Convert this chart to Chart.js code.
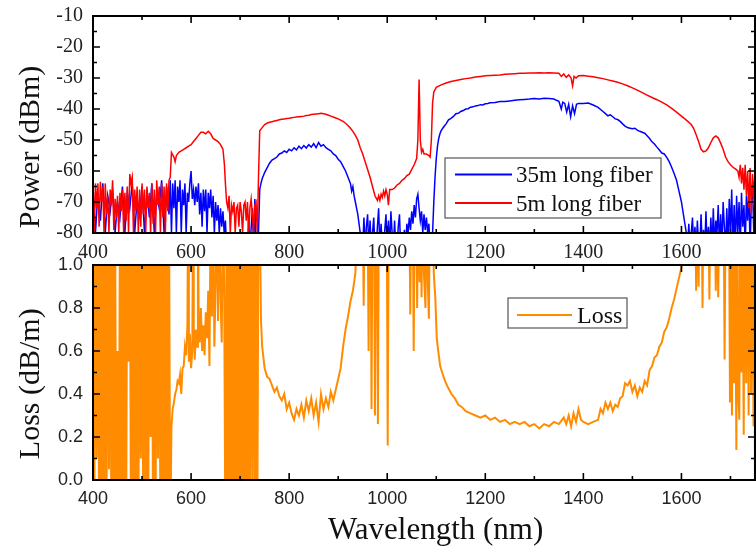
<!DOCTYPE html>
<html><head><meta charset="utf-8">
<script src="https://cdn.jsdelivr.net/npm/chart.js@4.4.1/dist/chart.umd.min.js"></script>
<style>
html,body{margin:0;padding:0;background:#fff;}
#wrap{position:relative;width:756px;height:554px;overflow:hidden;background:#fff;}
canvas{position:absolute;left:0;}
#bot{top:250px;}
#top{top:0;}
</style></head><body>
<div id="wrap"><canvas id="bot" width="756" height="304" style="width:756px;height:304px"></canvas><canvas id="top" width="756" height="270" style="width:756px;height:270px"></canvas></div>
<script>
// ---- data: [wavelength nm, value] ----
const seriesNames = ['35m long fiber', '5m long fiber', 'Loss'];
const xTicks = [400, 600, 800, 1000, 1200, 1400, 1600];
const powerTicks = [-80, -70, -60, -50, -40, -30, -20, -10];
const lossTicks = [0.0, 0.2, 0.4, 0.6, 0.8, 1.0];

const power5m = [
[400,-63],[402.5,-80],[405,-64],[407.5,-72],[410,-64],[412.5,-78],[415,-63.5],[417.5,-70],[420,-65],[422.5,-80],[425,-64],[427.5,-74],[430,-68],[432.5,-80],[435,-66],[437.5,-71],[440,-63],[442.5,-79],[445,-69],[447.5,-75],[450,-68],[452.5,-80],[455,-67],[457.5,-73],[460,-66],[462.5,-80],[465,-67],[467.5,-76],[470,-65],[472.5,-80],[475,-61],[477.5,-64],[480,-62],[482.5,-80],[485,-66],[487.5,-73],[490,-65],[492.5,-80],[495,-66],[497.5,-78],[500,-64],[502.5,-74],[505,-66],[507.5,-80],[510,-65],[512.5,-72],[515,-67],[517.5,-80],[520,-64],[522.5,-77],[525,-66],[527.5,-80],[530,-63],[532.5,-71],[535,-65],[537.5,-80],[540,-64],[542.5,-75],[545,-65],[547.5,-80],[550,-64],[552.5,-73],[555,-63],[557.5,-62],
[560,-54],[565,-55.5],[567.5,-57],[570,-55],[575,-54],[580,-53.5],[585,-53],[590,-52.5],[595,-52],[600,-51.5],[605,-50.5],[610,-49.5],[615,-48.5],[620,-47.5],[625,-47.5],[630,-48],[635,-47.2],[640,-48],[645,-49.5],[650,-50],[655,-50.5],[660,-51.5],[665,-53],[668,-58],[670,-64],
[672.5,-70],[675,-72],[677.5,-68],[680,-80],[682.5,-71],[685,-73],[687.5,-70],[690,-80],[692.5,-72],[695,-71],[697.5,-78],[700,-70],[702.5,-73],[705,-80],[707.5,-71],[710,-70],[712.5,-76],[715,-70],[717.5,-80],[720,-72],[722.5,-69],[725,-74],[727.5,-80],[730,-71],[732.5,-70],[735,-80],[737.5,-62],
[740,-47],[745,-46],[750,-45],[755,-44.6],[760,-44.3],[765,-44.1],[770,-43.9],[775,-43.7],[780,-43.5],[785,-43.3],[790,-43.2],[795,-43.1],[800,-43],[805,-42.8],[810,-42.7],[815,-42.6],[820,-42.5],[825,-42.4],[830,-42.3],[835,-42.1],[840,-42],[845,-41.8],[850,-41.7],[855,-41.6],[860,-41.5],[865,-41.4],[870,-41.5],[875,-41.7],[880,-42],[885,-42.3],[890,-42.6],[895,-42.9],[900,-43.2],[905,-43.6],[910,-44],[915,-44.6],[920,-45.3],[925,-46.2],[930,-47.2],[935,-48.5],[940,-50],[945,-52.5],[950,-54.5],[955,-57],[960,-59.5],[965,-62],[970,-65],[975,-68],[980,-69.5],[982.5,-68],[985,-69.5],[987.5,-67.5],[990,-68.5],[992.5,-66.5],[995,-68],[997.5,-66],[1000,-67.5],[1002.5,-71],[1005,-66],[1010,-66],[1015,-65.5],[1020,-64.5],[1025,-64],[1030,-63],[1035,-62.5],[1040,-61.5],[1045,-61],[1050,-59.5],[1055,-58],[1060,-56],[1062.5,-50],[1065,-30.5],[1067.5,-50],[1070,-54],[1072.5,-53],[1075,-54.5],[1080,-54.5],[1085,-55],[1087.5,-55.5],[1090,-50],[1092.5,-38],[1095,-34.5],
[1100,-33],[1110,-32.2],[1120,-31.6],[1130,-31.1],[1140,-30.8],[1150,-30.5],[1160,-30.2],[1170,-30],[1180,-29.7],[1190,-29.5],[1200,-29.3],[1210,-29.2],[1220,-29.1],[1230,-29],[1240,-28.8],[1250,-28.7],[1260,-28.6],[1270,-28.5],[1280,-28.5],[1290,-28.4],[1300,-28.4],[1310,-28.3],[1320,-28.4],[1330,-28.3],[1340,-28.4],[1350,-28.5],[1355,-29.5],[1360,-28.7],[1365,-29.8],[1370,-29],[1375,-30],[1378,-32.5],[1381,-29.5],[1385,-30],[1390,-29.3],[1400,-29.2],[1410,-29.4],[1420,-29.6],[1430,-29.9],[1440,-30.2],[1450,-30.6],[1460,-31],[1470,-31.4],[1480,-31.9],[1490,-32.5],[1500,-33.2],[1510,-33.9],[1520,-34.7],[1530,-35.5],[1540,-36.3],[1550,-37],[1560,-37.8],[1570,-38.7],[1580,-39.8],[1590,-41],[1600,-42.3],[1610,-43.6],[1620,-45],[1625,-46.3],[1630,-48.3],[1635,-50.5],[1640,-53],[1645,-53.8],[1650,-53.5],[1655,-52.5],[1660,-50.8],[1665,-49.3],[1670,-48.7],[1675,-49.3],[1680,-51],[1685,-53],[1690,-55.5],[1695,-57],[1700,-58],[1705,-58.8],[1710,-59.3],[1715,-60],
[1717.5,-62],[1720,-58],[1722.5,-64],[1725,-59],[1727.5,-66],[1730,-58],[1732.5,-68],[1735,-60],[1737.5,-72],[1740,-59],[1742.5,-74],[1745,-61],[1747.5,-69],[1750,-60]
];

const power35m = [
[400,-65],[405,-80],[410,-67],[415,-76],[420,-64],[425,-80],[430,-68],[435,-73],[440,-66],[445,-80],[450,-70],[455,-75],[460,-65],[465,-80],[470,-67],[475,-72],[480,-64],[485,-80],[490,-69],[495,-74],[500,-65],[505,-80],[510,-66],[515,-75],[520,-64],[525,-80],[530,-67],[535,-72],[540,-63],[545,-80],[550,-65],[555,-74],
[557.5,-63],[560,-80],[562.5,-64],[565,-72],[567.5,-63],[570,-80],[572.5,-65],[575,-70],[577.5,-63],[580,-80],[582.5,-66],[585,-71],[587.5,-64],[590,-80],[592.5,-67],[595,-70],[597.5,-64],[600,-60],[602.5,-69],[605,-66],[607.5,-71],[610,-65],[612.5,-70],[615,-64],[617.5,-74],[620,-67],[622.5,-78],[625,-66],[627.5,-73],[630,-66],[632.5,-80],[635,-67],[637.5,-72],[640,-66],[642.5,-75],[645,-68],[647.5,-80],[650,-70],[652.5,-76],[655,-71],[657.5,-80],[660,-72],[662.5,-78],[665,-73],[667.5,-80],[670,-76],[672.5,-85],
[715,-85],[717.5,-75],[720,-85],[725,-72],[727.5,-85],[730,-69],[732.5,-85],[735,-85],[737.5,-80],
[740,-66],[742.5,-64],[745,-62.5],[750,-60.5],[755,-59],[760,-57.5],[765,-56.5],[770,-56],[775,-55.5],[780,-54.5],[785,-54.2],[790,-53.5],[795,-54],[800,-53],[805,-53.5],[810,-52.5],[815,-53.2],[820,-52],[825,-52.8],[830,-51.8],[835,-52.6],[840,-51.5],[845,-52.3],[850,-51.2],[855,-52.5],[860,-50.8],[865,-52],[870,-51.5],[875,-52.5],[880,-53],[885,-53.5],[890,-54.5],[895,-55],[900,-56.2],[905,-57],[910,-58.5],[915,-60],[920,-62],[925,-64],[927.5,-66.5],[930,-65],[932.5,-68],[935,-70],[937.5,-72],[940,-74],[942.5,-77],[945,-80],[947.5,-85],
[950,-85],[952.5,-75],[955,-85],[957.5,-78],[960,-74],[962.5,-85],[965,-76],[967.5,-85],[970,-80],[972.5,-75],[975,-85],[977.5,-85],[980,-78],[982.5,-72],[985,-85],[987.5,-77],[990,-85],[992.5,-85],[995,-79],[997.5,-74],[1000,-85],[1002.5,-76],[1005,-85],[1007.5,-73],[1010,-80],[1012.5,-85],[1015,-76],[1017.5,-85],[1020,-85],[1022.5,-78],[1025,-74],[1027.5,-85],[1030,-85],[1032.5,-85],[1035,-79],[1037.5,-85],[1040,-77],[1042.5,-80],[1045,-75],[1047.5,-79],[1050,-73],[1052.5,-77],[1055,-71],[1057.5,-75],[1060,-69],[1062.5,-67.5],[1065,-72],[1067.5,-76],[1070,-73],[1072.5,-80],[1075,-74],[1077.5,-79],[1080,-75],[1082.5,-80],[1085,-77],[1087.5,-85],[1090,-85],[1092.5,-80],[1095,-70],[1097.5,-62],
[1100,-56],[1102.5,-52],[1105,-49.5],[1107.5,-48],[1110,-47],[1115,-45.8],[1120,-44.8],[1125,-43.5],[1130,-43],[1135,-42.4],[1140,-41.5],[1145,-41.4],[1150,-40.8],[1155,-40.5],[1160,-40],[1165,-39.9],[1170,-39.4],[1175,-39.3],[1180,-39],[1185,-38.9],[1190,-38.6],[1195,-38.7],[1200,-38.3],[1205,-38.2],[1210,-38],[1220,-37.9],[1230,-37.6],[1240,-37.6],[1250,-37.4],[1260,-37.2],[1270,-37],[1280,-36.9],[1290,-36.8],[1300,-36.6],[1310,-36.8],[1320,-36.5],[1330,-36.6],[1340,-36.8],[1345,-37.2],[1350,-37.5],[1355,-40],[1358,-37.8],[1362,-38.2],[1366,-41],[1370,-38.5],[1374,-42.5],[1378,-39],[1382,-41.5],[1386,-38.5],[1390,-38.2],[1400,-38.2],[1410,-38.1],[1420,-38.7],[1430,-39.5],[1440,-40.8],[1445,-41.5],[1450,-42.2],[1455,-41.9],[1460,-42.5],[1465,-43.2],[1470,-43.4],[1475,-44],[1480,-44.8],[1485,-45.5],[1490,-46],[1495,-46.2],[1500,-46.4],[1505,-46.2],[1510,-46.8],[1515,-47.2],[1520,-47.5],[1525,-47.8],[1530,-48.6],[1535,-49.5],[1540,-50.6],[1545,-51.3],[1550,-52.3],[1555,-53.2],[1560,-54.2],[1565,-54.5],[1570,-55.6],[1575,-57],[1580,-58.8],[1585,-60.8],[1590,-63],[1595,-66.5],[1600,-70],[1605,-75],[1610,-80],
[1612.5,-85],[1615,-77],[1617.5,-85],[1620,-80],[1622.5,-75],[1625,-85],[1627.5,-78],[1630,-85],[1632.5,-76],[1635,-85],[1637.5,-85],[1640,-74],[1642.5,-85],[1645,-79],[1647.5,-85],[1650,-73],[1652.5,-85],[1655,-78],[1657.5,-85],[1660,-75],[1662.5,-85],[1665,-72],[1667.5,-85],[1670,-76],[1672.5,-80],[1675,-71],[1677.5,-85],[1680,-74],[1682.5,-85],[1685,-70],[1687.5,-78],[1690,-85],[1692.5,-72],[1695,-85],[1697.5,-69],[1700,-80],[1702.5,-66],[1705,-85],[1707.5,-71],[1710,-85],[1712.5,-68],[1715,-80],[1717.5,-70],[1720,-85],[1722.5,-67],[1725,-78],[1727.5,-71],[1730,-85],[1732.5,-68],[1735,-76],[1737.5,-66],[1740,-85],[1742.5,-70],[1745,-65],[1747.5,-80],[1750,-68]
];

const loss = [
[400,1.3],[402.5,-0.3],[405,1.3],[407.5,0.1],[410,1.3],[412.5,-0.3],[415,1.3],[417.5,-0.3],[420,1.2],[422.5,-0.3],[425,1.3],[427.5,-0.2],[430,1.3],[432.5,0.05],[435,1.3],[437.5,-0.3],[440,1.3],[442.5,-0.3],[445,1.3],[447.5,-0.3],[450,0.6],[452.5,-0.3],[455,1.3],[457.5,-0.3],[460,1.3],[462.5,-0.3],[465,1.3],[467.5,-0.3],[470,1.3],[472.5,0.55],[475,1.3],[477.5,-0.3],[480,1.3],[482.5,-0.3],[485,1.3],[487.5,-0.3],[490,1.3],[492.5,-0.3],[495,1.3],[497.5,0.1],[500,1.3],[502.5,-0.3],[505,1.3],[507.5,-0.3],[510,1.3],[512.5,-0.3],[515,1.3],[517.5,0.2],[520,1.3],[522.5,-0.3],[525,1.3],[527.5,-0.3],[530,1.3],[532.5,0.1],[535,1.3],[537.5,-0.3],[540,1.3],[542.5,-0.3],[545,1.3],[547.5,-0.3],[550,1.3],[552.5,-0.3],[555,1.3],[557.5,-0.3],
[560,0.25],[562.5,0.33],[565,0.36],[567.5,0.40],[570,0.42],[572.5,0.46],[575,0.45],[577.5,0.49],[580,0.40],[582.5,0.52],[585,0.53],[587.5,0.62],[590,0.58],[592.5,0.72],[594,1.3],[595.5,0.55],[597.5,0.68],[600,0.52],[602.5,0.60],[604,1.3],[605.5,0.71],[607.5,0.56],[610,0.70],[612.5,0.62],[614,1.3],[615.5,0.75],[617.5,0.64],[620,0.80],[622.5,0.60],[625,0.72],[627.5,0.58],[630,0.78],[632.5,0.66],[635,0.88],[637.5,0.53],[640,1.3],[642.5,0.76],[645,1.3],[647.5,0.62],[650,0.90],[652.5,1.3],[655,0.74],[657.5,1.3],[660,0.85],[662.5,0.64],[665,1.3],[667.5,0.9],[670,-0.3],
[672.5,1.3],[675,-0.3],[677.5,1.3],[680,-0.3],[682.5,1.3],[685,-0.3],[687.5,1.3],[690,-0.3],[692.5,1.3],[695,-0.3],[697.5,1.3],[700,-0.3],[702.5,1.3],[705,-0.3],[707.5,1.3],[710,-0.3],[712.5,1.3],[715,-0.3],[717.5,1.3],[720,-0.3],[722.5,1.3],[725,0.0],[727.5,1.3],[730,-0.3],[732.5,1.3],[735,-0.3],[737.5,1.3],[740,1.3],
[742.5,0.75],[745,0.62],[750,0.52],[755,0.48],[760,0.47],[765,0.44],[770,0.41],[775,0.43],[780,0.39],[785,0.37],[790,0.40],[795,0.33],[800,0.36],[805,0.31],[810,0.28],[815,0.33],[820,0.30],[825,0.35],[830,0.29],[835,0.37],[840,0.32],[845,0.38],[850,0.30],[855,0.36],[860,0.27],[865,0.40],[870,0.33],[875,0.38],[880,0.34],[885,0.41],[890,0.37],[895,0.42],[900,0.47],[905,0.52],[910,0.62],[915,0.70],[920,0.76],[925,0.83],[930,0.88],[935,0.96],[940,1.3],
[950,1.3],[952,0.81],[954,1.3],[960,1.3],[962,0.60],[964,1.3],[966,1.3],[968,0.33],[970,1.3],[973,1.3],[975,0.30],[977,1.3],[979,1.3],[981,0.26],[983,1.3],[999,1.3],[1001,0.16],[1003,1.3],[1045,1.3],[1047,0.77],[1049,1.3],[1052,1.3],[1054,0.60],[1056,1.3],[1059,1.3],[1061,0.80],[1063,1.3],[1066,0.92],[1068,1.3],[1070,0.85],[1072,1.3],[1075,0.95],[1078,0.80],[1080,1.3],[1083,0.90],[1085,0.75],[1087,1.3],[1092,1.3],[1095,0.96],[1098,0.85],
[1101,0.66],[1104,0.60],[1108,0.53],[1112,0.50],[1118,0.46],[1124,0.43],[1131,0.40],[1138,0.38],[1145,0.35],[1152,0.34],[1160,0.32],[1170,0.31],[1180,0.30],[1190,0.29],[1200,0.30],[1210,0.28],[1220,0.29],[1230,0.27],[1240,0.28],[1250,0.26],[1260,0.27],[1270,0.26],[1280,0.27],[1290,0.25],[1300,0.26],[1310,0.24],[1320,0.26],[1330,0.25],[1340,0.27],[1350,0.26],[1360,0.29],[1365,0.26],[1370,0.30],[1375,0.25],[1380,0.31],[1385,0.27],[1390,0.33],[1395,0.28],[1400,0.27],[1410,0.26],[1420,0.27],[1430,0.28],[1435,0.33],[1440,0.31],[1445,0.36],[1450,0.33],[1455,0.36],[1460,0.32],[1465,0.35],[1470,0.34],[1475,0.38],[1480,0.39],[1485,0.45],[1490,0.44],[1495,0.46],[1500,0.41],[1505,0.44],[1510,0.39],[1515,0.43],[1520,0.41],[1525,0.46],[1530,0.44],[1535,0.51],[1540,0.53],[1545,0.57],[1550,0.58],[1555,0.62],[1560,0.64],[1565,0.69],[1570,0.71],[1575,0.75],[1580,0.80],[1585,0.84],[1590,0.89],[1595,0.94],[1600,0.99],[1603,1.3],
[1628,1.3],[1630,0.88],[1632,1.3],[1635,0.90],[1637,1.3],[1641,1.3],[1643,0.80],[1645,1.3],[1655,1.3],[1657,0.84],[1659,1.3],[1668,1.3],[1670,0.88],[1672,1.3],[1675,0.85],[1677,1.3],[1686,1.3],[1688,0.56],[1690,1.3],[1697,1.3],[1699,0.36],[1701,1.3],[1703,0.30],[1705,1.3],[1707,0.45],[1709,1.3],[1712,0.14],[1714,1.3],[1716,0.40],[1718,0.28],[1720,1.3],[1722,0.50],[1724,1.3],[1727,0.21],[1729,1.3],[1732,0.45],[1734,1.3],[1737,0.30],[1739,1.3],[1742,0.40],[1744,1.3],[1747,0.25],[1749,1.3],[1750,-0.3]
];

// ---- helpers ----
const pts = arr => arr.map(([x, y]) => ({x, y}));
const SERIF = '"Liberation Serif", "Times New Roman", serif';
const SANS = '"Liberation Sans", Arial, sans-serif';

const framePlugin = {
  id: 'frame',
  afterDatasetsDraw(chart) {
    const {ctx, chartArea: a, scales: {x, y}} = chart;
    ctx.save();
    ctx.strokeStyle = '#000';
    ctx.lineWidth = 2;
    ctx.strokeRect(a.left, a.top, a.right - a.left, a.bottom - a.top);
    ctx.lineWidth = 1.6;
    const MAJ = 7, MIN = 4;
    const xv = x.ticks.map(t => t.value), yv = y.ticks.map(t => t.value);
    const xs = xv[1] - xv[0], ys = yv[1] - yv[0];
    const xMarks = [];
    xv.forEach(v => { xMarks.push([v, MAJ]); if (v + xs / 2 <= x.max) xMarks.push([v + xs / 2, MIN]); });
    const yMarks = [];
    yv.forEach(v => { yMarks.push([v, MAJ]); if (v + ys / 2 < y.max) yMarks.push([v + ys / 2, MIN]); });
    ctx.beginPath();
    xMarks.forEach(([v, L]) => {
      const p = x.getPixelForValue(v);
      if (p <= a.left + 1 || p >= a.right - 1) return;
      ctx.moveTo(p, a.bottom); ctx.lineTo(p, a.bottom - L);
      ctx.moveTo(p, a.top); ctx.lineTo(p, a.top + L);
    });
    yMarks.forEach(([v, L]) => {
      const p = y.getPixelForValue(v);
      if (p <= a.top + 1 || p >= a.bottom - 1) return;
      ctx.moveTo(a.left, p); ctx.lineTo(a.left + L, p);
      ctx.moveTo(a.right, p); ctx.lineTo(a.right - L, p);
    });
    ctx.stroke();
    ctx.restore();
  }
};

const boxLegend = {
  id: 'boxLegend',
  afterDraw(chart, args, o) {
    const {ctx} = chart;
    ctx.save();
    ctx.fillStyle = '#fff';
    ctx.fillRect(o.x, o.y, o.w, o.h);
    ctx.strokeStyle = '#555';
    ctx.lineWidth = 1.2;
    ctx.strokeRect(o.x, o.y, o.w, o.h);
    ctx.font = o.font;
    ctx.textBaseline = 'alphabetic';
    ctx.textAlign = 'left';
    o.items.forEach(it => {
      const ds = chart.data.datasets[it.ds];
      ctx.strokeStyle = ds.borderColor;
      ctx.lineWidth = 2;
      ctx.beginPath();
      ctx.moveTo(o.lineX0, it.lineY); ctx.lineTo(o.lineX1, it.lineY);
      ctx.stroke();
      ctx.fillStyle = '#111';
      ctx.fillText(ds.label, o.textX, it.baseY);
    });
    ctx.restore();
  }
};

function axisX(fontFamily, size, pad, height, showTitle) {
  return {
    type: 'linear', min: 400, max: 1750,
    afterBuildTicks: s => { s.ticks = xTicks.map(v => ({value: v})); },
    ticks: {includeBounds: false, color: '#222', font: {family: fontFamily, size: size}, padding: pad, maxRotation: 0, autoSkip: false, callback: v => String(v)},
    grid: {display: false, drawTicks: false}, border: {display: false},
    title: showTitle ? {display: true, text: '   Wavelength (nm)', color: '#111', font: {family: SERIF, size: 31, lineHeight: 1.2}, padding: {top: 0, bottom: 5}} : {display: false},
    afterFit: s => { s.height = height; s.paddingLeft = 0; s.paddingRight = 0; }
  };
}

// ---- top panel: Power ----
new Chart(document.getElementById('top'), {
  type: 'line',
  data: {datasets: [
    {label: seriesNames[0], data: pts(power35m), borderColor: '#0000ff', borderWidth: 1.5, pointRadius: 0, tension: 0, order: 1},
    {label: seriesNames[1], data: pts(power5m), borderColor: '#ff0000', borderWidth: 1.5, pointRadius: 0, tension: 0, order: 0}
  ]},
  options: {
    responsive: false, animation: false, devicePixelRatio: 1,
    layout: {padding: {left: 0, right: 1, top: 16, bottom: 0}},
    plugins: {
      legend: {display: false}, tooltip: {enabled: false},
      boxLegend: {x: 445, y: 158, w: 216, h: 60, lineX0: 455, lineX1: 512, textX: 516, font: '23px ' + SERIF,
        items: [{ds: 0, lineY: 174.5, baseY: 182}, {ds: 1, lineY: 203, baseY: 211}]}
    },
    scales: {
      x: axisX(SERIF, 20, 8, 37, false),
      y: {
        min: -80, max: -10,
        afterBuildTicks: s => { s.ticks = powerTicks.map(v => ({value: v})); },
        ticks: {color: '#222', font: {family: SERIF, size: 20}, padding: 10},
        grid: {display: false, drawTicks: false}, border: {display: false},
        title: {display: true, text: 'Power (dBm)      ', color: '#111', font: {family: SERIF, size: 30, lineHeight: 1.2}, padding: {top: 13, bottom: 0}},
        afterFit: s => { s.width = 93; s.paddingTop = 0; s.paddingBottom = 0; }
      }
    }
  },
  plugins: [framePlugin, boxLegend]
});

// ---- bottom panel: Loss ----
new Chart(document.getElementById('bot'), {
  type: 'line',
  data: {datasets: [
    {label: seriesNames[2], data: pts(loss), borderColor: '#ff8c00', borderWidth: 2, pointRadius: 0, tension: 0}
  ]},
  options: {
    responsive: false, animation: false, devicePixelRatio: 1,
    layout: {padding: {left: 0, right: 1, top: 15, bottom: 0}},
    plugins: {
      legend: {display: false}, tooltip: {enabled: false},
      boxLegend: {x: 508, y: 48, w: 119, h: 30, lineX0: 517, lineX1: 572, textX: 577, font: '24px ' + SERIF,
        items: [{ds: 0, lineY: 65, baseY: 72.5}]}
    },
    scales: {
      x: axisX(SANS, 18, 8, 74, true),
      y: {
        min: 0, max: 1,
        afterBuildTicks: s => { s.ticks = lossTicks.map(v => ({value: v})); },
        ticks: {color: '#222', font: {family: SANS, size: 18}, padding: 10, callback: v => Number(v).toFixed(1)},
        grid: {display: false, drawTicks: false}, border: {display: false},
        title: {display: true, text: 'Loss (dB/m)   ', color: '#111', font: {family: SERIF, size: 30, lineHeight: 1.2}, padding: {top: 13, bottom: 0}},
        afterFit: s => { s.width = 93; s.paddingTop = 0; s.paddingBottom = 0; }
      }
    }
  },
  plugins: [framePlugin, boxLegend]
});
</script>
</body></html>
